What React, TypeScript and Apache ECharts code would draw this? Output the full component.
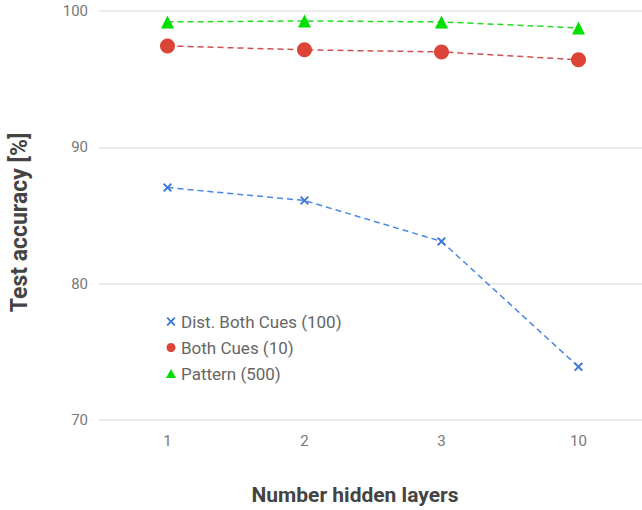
import React, { useEffect, useRef } from "react";
import * as echarts from "echarts";

const categories = ["1", "2", "3", "10"];
const distBothCues = [87.05, 86.1, 83.1, 73.9];
const bothCues = [97.44, 97.15, 97.0, 96.42];
const pattern = [99.2, 99.27, 99.2, 98.76];
const seriesNames = ["Dist. Both Cues (100)", "Both Cues (10)", "Pattern (500)"];

const crossPath =
  "path://M1.5,0 L5,3.5 L8.5,0 L10,1.5 L6.5,5 L10,8.5 L8.5,10 L5,6.5 L1.5,10 L0,8.5 L3.5,5 L0,1.5 Z";

export default function App() {
  const ref = useRef<HTMLDivElement>(null);
  useEffect(() => {
    if (!ref.current) return;
    const chart = echarts.init(ref.current, undefined, { renderer: "svg" });
    const font = "Roboto, 'Noto Sans', sans-serif";
    chart.setOption({
      animation: false,
      backgroundColor: "#ffffff",
      textStyle: { fontFamily: font },
      grid: { left: 94, width: 553, top: 11, bottom: 89, containLabel: false },
      legend: {
        orient: "vertical",
        left: 161,
        top: 308,
        itemGap: 9,
        itemWidth: 10,
        itemHeight: 9,
        textStyle: { color: "#666", fontSize: 17, fontFamily: font },
        data: [
          { name: seriesNames[0], icon: crossPath, itemStyle: { color: "#3c78d8" } },
          { name: seriesNames[1], icon: "circle", itemStyle: { color: "#db4437" } },
          { name: seriesNames[2], icon: "triangle", itemStyle: { color: "#00e000" } },
        ],
      },
      xAxis: {
        type: "category",
        data: categories,
        boundaryGap: true,
        axisLine: { show: false },
        axisTick: { show: false },
        axisLabel: { color: "#777", fontSize: 15, margin: 13, fontFamily: font },
        name: "Number hidden layers",
        nameLocation: "middle",
        nameGap: 64,
        nameTextStyle: {
          color: "#444",
          fontSize: 21,
          fontWeight: "bold",
          fontFamily: font,
          padding: [0, 36, 0, 0],
        },
      },
      yAxis: {
        type: "value",
        min: 70,
        max: 100,
        interval: 10,
        axisLine: { show: false },
        axisTick: { show: false },
        splitLine: { lineStyle: { color: "#e4e4e4", width: 1.5 } },
        axisLabel: { color: "#777", fontSize: 15, margin: 11, fontFamily: font },
        name: "Test accuracy [%]",
        nameLocation: "middle",
        nameGap: 68,
        nameTextStyle: {
          color: "#444",
          fontSize: 23,
          fontWeight: "bold",
          fontFamily: font,
          padding: [0, 14, 0, 0],
        },
      },
      series: [
        {
          name: seriesNames[0],
          type: "line",
          data: distBothCues,
          symbol: crossPath,
          symbolSize: 9,
          itemStyle: { color: "#3c78d8" },
          lineStyle: { color: "#4a86e8", type: [6, 4], width: 1.5 },
        },
        {
          name: seriesNames[1],
          type: "line",
          data: bothCues,
          symbol: "circle",
          symbolSize: 15,
          itemStyle: { color: "#db4437" },
          lineStyle: { color: "#d05050", type: [6, 4], width: 1.5 },
        },
        {
          name: seriesNames[2],
          type: "line",
          data: pattern,
          symbol: "triangle",
          symbolSize: 13,
          itemStyle: { color: "#00e000" },
          lineStyle: { color: "#22dd22", type: [6, 4], width: 1.5 },
        },
      ],
    });
    return () => chart.dispose();
  }, []);
  return (
    <div style={{ position: "fixed", left: 0, top: 0, width: 642, height: 510, overflow: "hidden" }}>
      <div ref={ref} style={{ width: 660, height: 510 }} />
    </div>
  );
}
